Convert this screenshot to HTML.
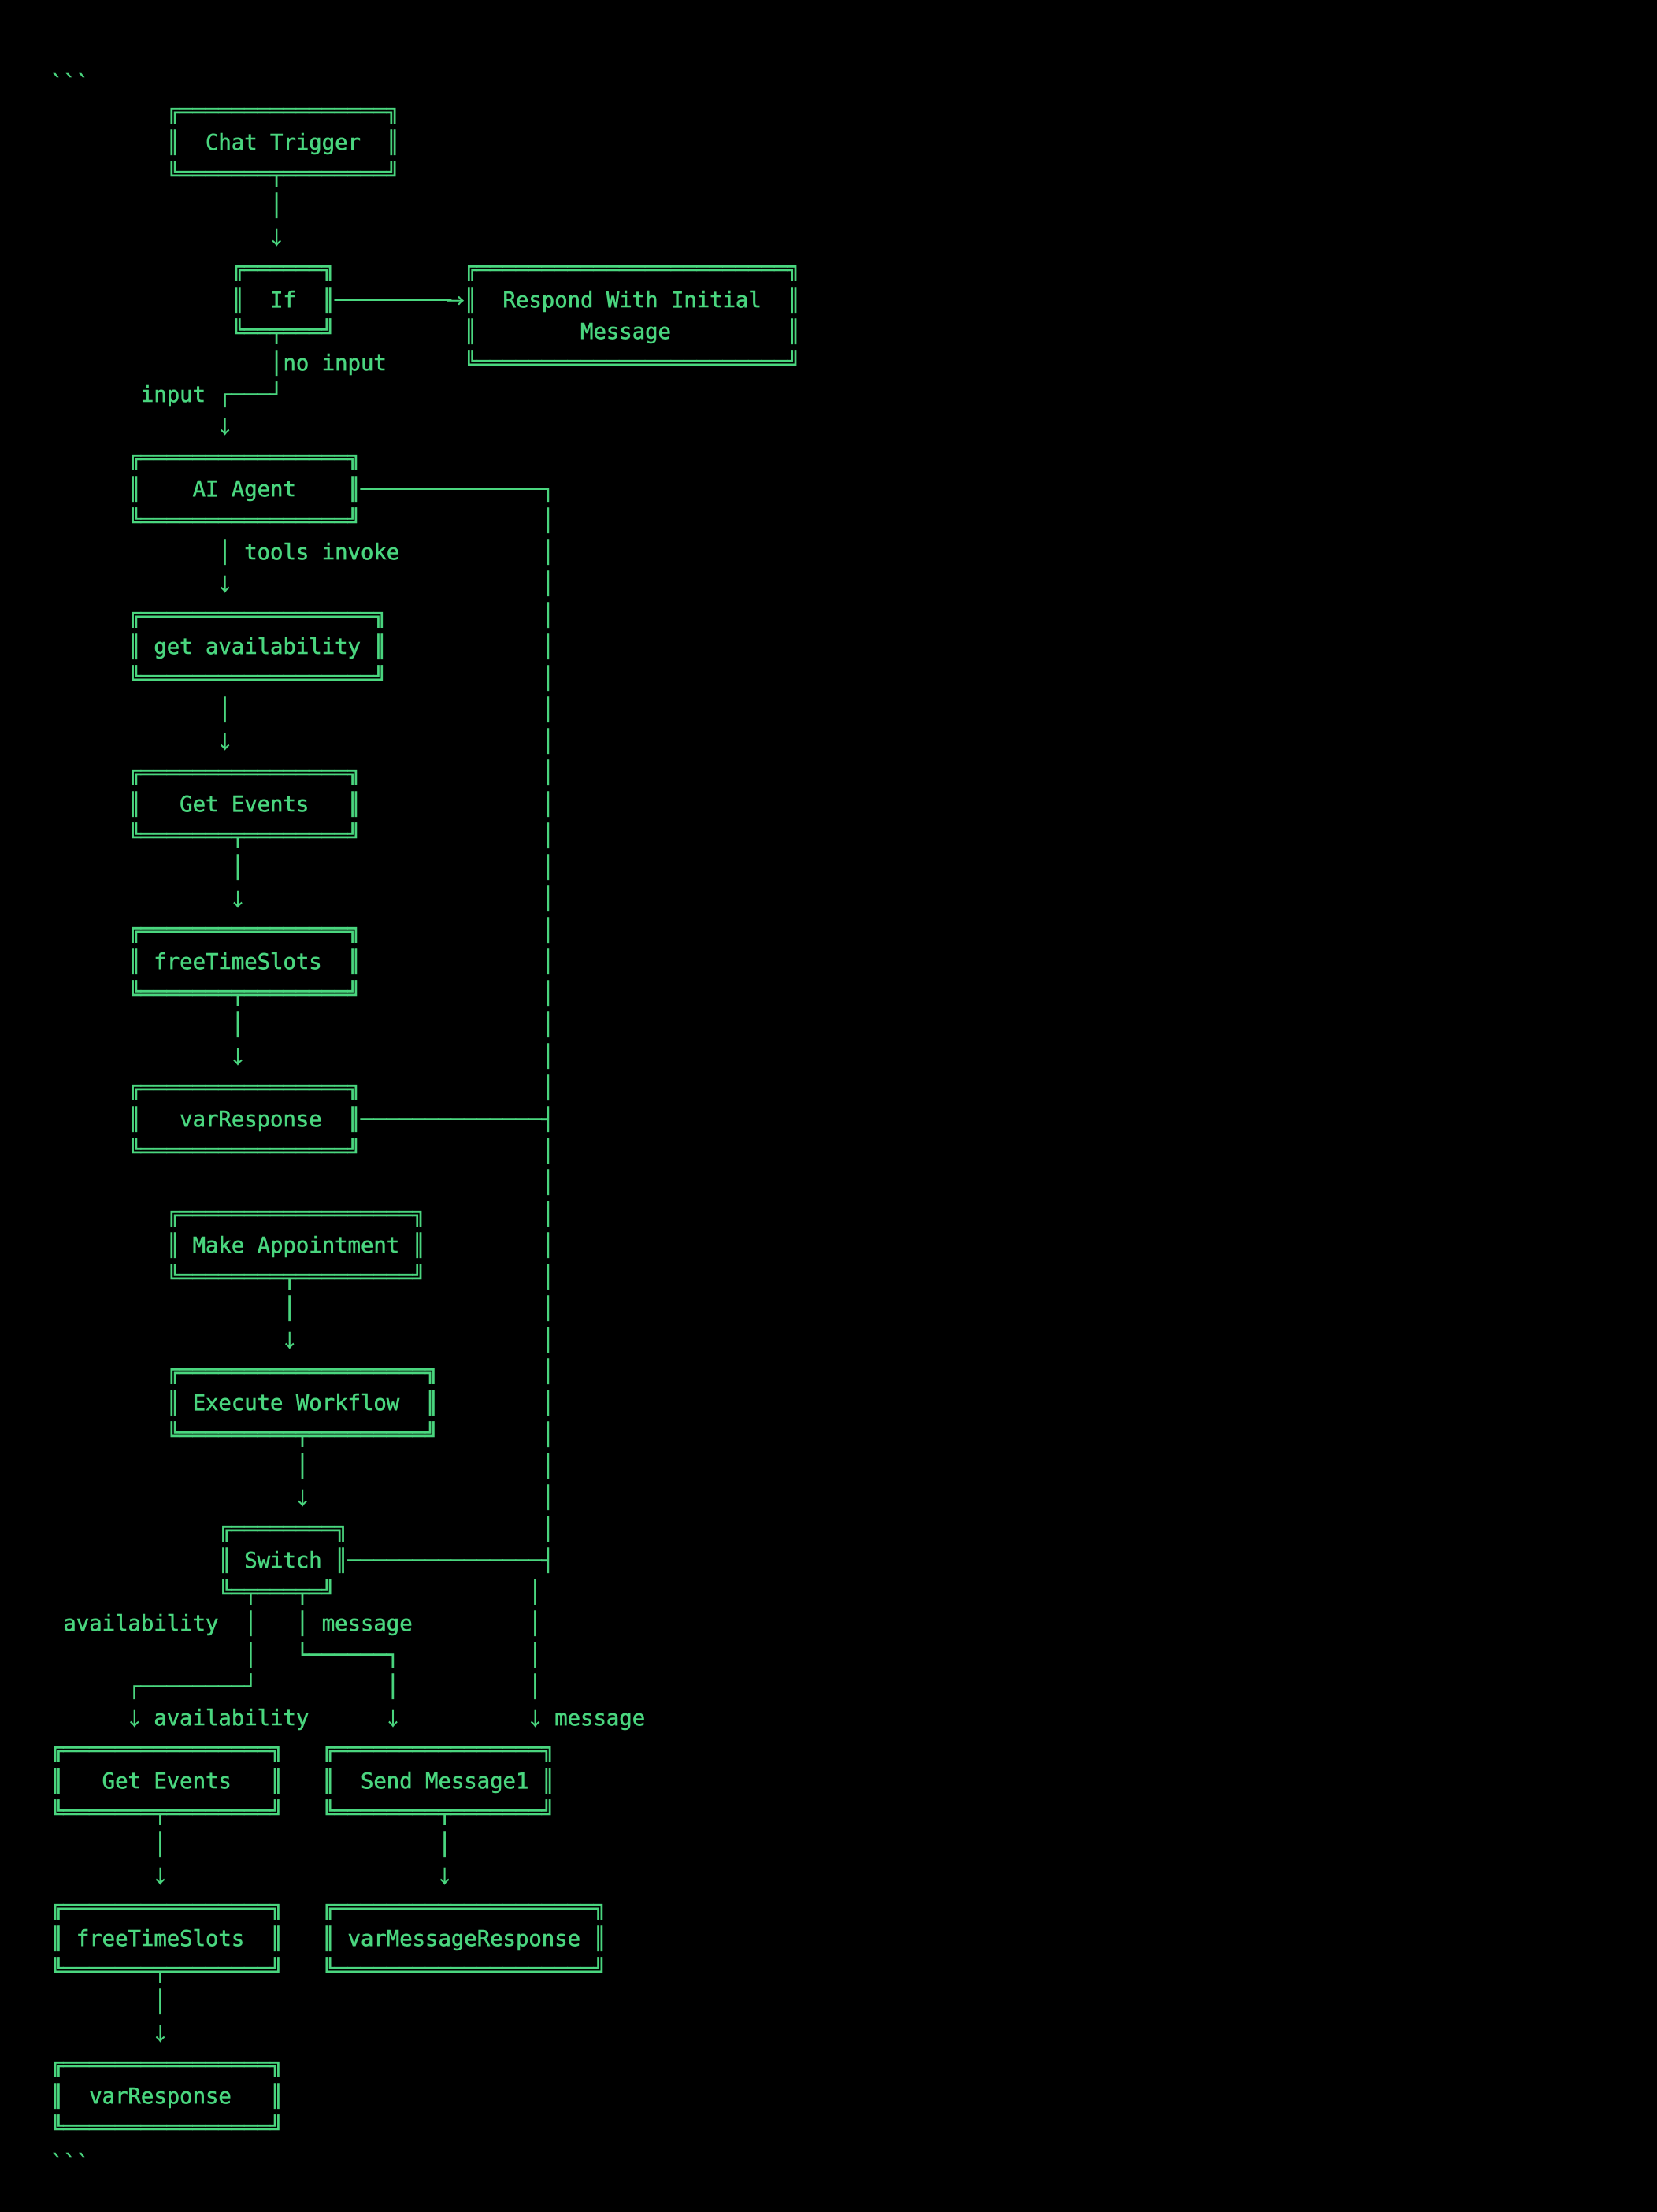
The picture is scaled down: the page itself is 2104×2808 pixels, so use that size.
<!DOCTYPE html>
<html><head><meta charset="utf-8"><title>Workflow diagram</title>
<style>
html,body{margin:0;padding:0;background:#000;width:2104px;height:2808px;overflow:hidden}
pre{position:absolute;left:64px;top:82px;margin:0;font-family:"DejaVu Sans Mono","Liberation Mono",monospace;font-size:27.28px;line-height:40px;color:#4ad67f;font-variant-ligatures:none;white-space:pre;-webkit-text-stroke:.55px #4ad67f}
i,u{font-style:normal;text-decoration:none;font-family:"Noto Sans CJK JP",sans-serif;font-size:23px;line-height:0;display:inline-block;width:16.42px;text-indent:-3.3px;-webkit-text-stroke:.5px #4ad67f}
u{position:relative;left:-3px}
s{text-decoration:none;display:inline-block;position:relative;top:5px}
</style></head><body><pre><s>&#96;&#96;&#96;</s>
         ╔════════════════╗
         ║  Chat Trigger  ║
         ╚═══════╤════════╝
                 │
                 <i>↓</i>
              ╔══════╗          ╔════════════════════════╗
              ║  If  ║─────────<u>→</u>║  Respond With Initial  ║
              ╚══╤═══╝          ║        Message         ║
                 │no input      ╚════════════════════════╝
       input ┌───┘
             <i>↓</i>
      ╔════════════════╗
      ║    AI Agent    ║──────────────┐
      ╚════════════════╝              │
             │ tools invoke           │
             <i>↓</i>                        │
      ╔══════════════════╗            │
      ║ get availability ║            │
      ╚══════════════════╝            │
             │                        │
             <i>↓</i>                        │
      ╔════════════════╗              │
      ║   Get Events   ║              │
      ╚═══════╤════════╝              │
              │                       │
              <i>↓</i>                       │
      ╔════════════════╗              │
      ║ freeTimeSlots  ║              │
      ╚═══════╤════════╝              │
              │                       │
              <i>↓</i>                       │
      ╔════════════════╗              │
      ║   varResponse  ║──────────────┤
      ╚════════════════╝              │
                                      │
         ╔══════════════════╗         │
         ║ Make Appointment ║         │
         ╚════════╤═════════╝         │
                  │                   │
                  <i>↓</i>                   │
         ╔═══════════════════╗        │
         ║ Execute Workflow  ║        │
         ╚═════════╤═════════╝        │
                   │                  │
                   <i>↓</i>                  │
             ╔════════╗               │
             ║ Switch ║───────────────┤
             ╚═╤═══╤═╝               │
 availability  │   │ message         │
               │   └──────┐          │
      ┌────────┘          │          │
      <i>↓</i> availability      <i>↓</i>          <i>↓</i> message
╔════════════════╗   ╔════════════════╗
║   Get Events   ║   ║  Send Message1 ║
╚═══════╤════════╝   ╚════════╤═══════╝
        │                     │
        <i>↓</i>                     <i>↓</i>
╔════════════════╗   ╔════════════════════╗
║ freeTimeSlots  ║   ║ varMessageResponse ║
╚═══════╤════════╝   ╚════════════════════╝
        │
        <i>↓</i>
╔════════════════╗
║  varResponse   ║
╚════════════════╝
<s>&#96;&#96;&#96;</s></pre></body></html>
